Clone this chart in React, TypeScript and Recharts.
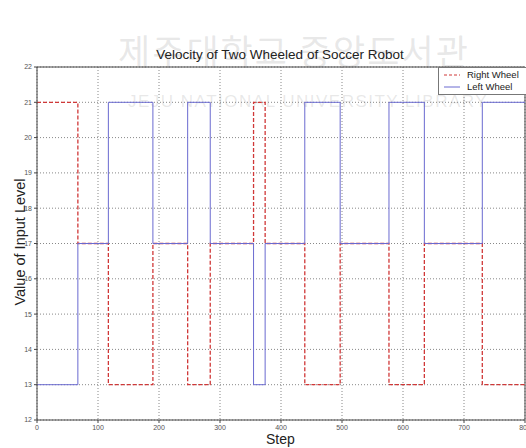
import { CartesianGrid, Line, LineChart, ReferenceLine, XAxis, YAxis } from 'recharts';

const steps = [0, 67, 117, 190, 247, 284, 355, 374, 439, 497, 577, 635, 730, 800];
const rightWheel = [21, 17, 13, 17, 13, 17, 21, 17, 13, 17, 13, 17, 13, 13];
const leftWheel = [13, 17, 21, 17, 21, 17, 13, 17, 21, 17, 21, 17, 21, 21];
const xTicks = [0, 100, 200, 300, 400, 500, 600, 700, 800];
const yTicks = [12, 13, 14, 15, 16, 17, 18, 19, 20, 21, 22];

const data = steps.map((s, i) => ({ step: s, right: rightWheel[i], left: leftWheel[i] }));

const font = 'Arial, "Liberation Sans", sans-serif';

function LegendBox() {
  return (
    <div
      style={{
        position: 'absolute',
        left: 438,
        top: 67,
        width: 86,
        border: '1px solid #777',
        background: '#fff',
        padding: '1px 0 1px 3px',
        fontFamily: font,
        fontSize: 9.5,
        lineHeight: '12px',
        color: '#222',
      }}
    >
      <div style={{ display: 'flex', alignItems: 'center' }}>
        <svg width={20} height={10}>
          <line x1={2} y1={5} x2={18} y2={5} stroke="#d03838" strokeDasharray="3 2" />
        </svg>
        <span style={{ marginLeft: 5 }}>Right Wheel</span>
      </div>
      <div style={{ display: 'flex', alignItems: 'center' }}>
        <svg width={20} height={10}>
          <line x1={2} y1={5} x2={18} y2={5} stroke="#6a6ad0" />
        </svg>
        <span style={{ marginLeft: 5 }}>Left Wheel</span>
      </div>
    </div>
  );
}

export default function App() {
  return (
    <div style={{ position: 'absolute', left: 0, top: 0, width: 526, height: 448, background: '#fff' }}>
      <div
        style={{
          position: 'absolute',
          left: 118,
          top: 24,
          fontFamily: '"Noto Sans CJK KR", sans-serif',
          fontSize: 35,
          color: 'rgba(150,150,150,0.22)',
          whiteSpace: 'nowrap',
          letterSpacing: 2,
        }}
      >
        제주대학교 중앙도서관
      </div>
      <div
        style={{
          position: 'absolute',
          left: 128,
          top: 92,
          fontFamily: font,
          fontSize: 17,
          color: 'rgba(150,150,150,0.22)',
          whiteSpace: 'nowrap',
          letterSpacing: 1.5,
        }}
      >
        JEJU NATIONAL UNIVERSITY LIBRARY
      </div>
      <LineChart
        width={526}
        height={448}
        data={data}
        margin={{ top: 67, right: 1, bottom: 8, left: 0 }}
        style={{ position: 'absolute', left: 0, top: 0 }}
      >
        <CartesianGrid stroke="#888" strokeDasharray="1 2" />
        <XAxis
          dataKey="step"
          type="number"
          domain={[0, 800]}
          ticks={xTicks}
          height={20}
          tick={{ fontSize: 7, fill: '#555', fontFamily: font }}
          tickSize={3}
          axisLine={{ stroke: '#444' }}
          tickLine={{ stroke: '#444' }}
          interval={0}
        />
        <YAxis
          type="number"
          domain={[12, 22]}
          ticks={yTicks}
          width={37}
          tick={{ fontSize: 7, fill: '#555', fontFamily: font }}
          tickSize={3}
          axisLine={{ stroke: '#444' }}
          tickLine={{ stroke: '#444' }}
          interval={0}
        />
        <ReferenceLine y={22} stroke="#444" />
        <ReferenceLine x={800} stroke="#444" />
        <Line
          dataKey="right"
          type="stepAfter"
          stroke="#d03838"
          strokeWidth={1.3}
          strokeDasharray="4 2"
          dot={false}
          isAnimationActive={false}
        />
        <Line
          dataKey="left"
          type="stepAfter"
          stroke="#6a6ad0"
          strokeWidth={1}
          dot={false}
          isAnimationActive={false}
        />
      </LineChart>
      <div
        style={{
          position: 'absolute',
          left: 0,
          width: 560,
          top: 47,
          textAlign: 'center',
          fontFamily: font,
          fontSize: 13.5,
          lineHeight: '16px',
          color: '#222',
        }}
      >
        Velocity of Two Wheeled of Soccer Robot
      </div>
      <div
        style={{
          position: 'absolute',
          left: 20,
          top: 242,
          transform: 'translate(-50%, -50%) rotate(-90deg)',
          fontFamily: font,
          fontSize: 14.5,
          color: '#222',
          whiteSpace: 'nowrap',
        }}
      >
        Value of Input Level
      </div>
      <div
        style={{
          position: 'absolute',
          left: 266,
          top: 431,
          fontFamily: font,
          fontSize: 14,
          lineHeight: '16px',
          color: '#222',
        }}
      >
        Step
      </div>
      <LegendBox />
    </div>
  );
}
